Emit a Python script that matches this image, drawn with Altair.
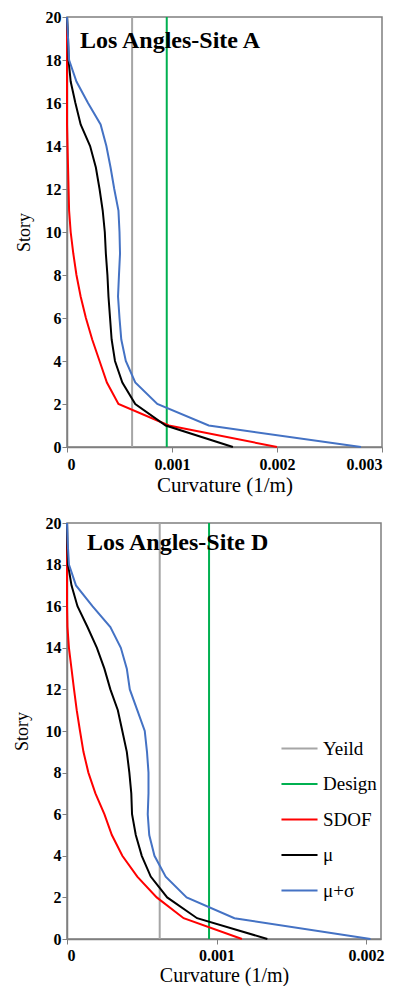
import altair as alt
import pandas as pd

stories = list(range(0, 21))

series_names = ["Yeild", "Design", "SDOF", "\u00a0\u00a0μ", "\u00a0\u00a0μ+σ"]
series_colors = ["#A6A6A6", "#00B050", "#FF0000", "#000000", "#4472C4"]

yield_val = 0.00062
design_val = 0.00095

# Site A
A_sdof = [0.002, 0.00097, 0.00049, 0.00038, 0.00031, 0.00024, 0.00018, 0.00013, 0.00009, 0.00006,
          0.000035, 0.00002, 0.000015, 0.00001, 0.000005, 0.0, 0.0, 0.0, 0.0, 0.0, 0.0]
A_mu = [0.00158, 0.00094, 0.00065, 0.000527, 0.000457, 0.000425, 0.00041, 0.000395, 0.000385, 0.00037,
        0.00036, 0.00034, 0.00031, 0.000275, 0.00022, 0.00013, 0.00008, 0.000035, 0.000015, 0.00001, 0.0]
A_sig = [0.0028, 0.00135, 0.00086, 0.00065, 0.00056, 0.000517, 0.0005, 0.000486, 0.000495, 0.000505,
         0.0005, 0.00049, 0.00045, 0.000415, 0.000375, 0.00032, 0.0002, 0.00009, 0.00002, 0.00001, 0.0]

# Site D
D_sdof = [0.00117, 0.00078, 0.0006, 0.00047, 0.00037, 0.0003, 0.00025, 0.00019, 0.000143, 0.00011,
          0.000087, 0.000065, 0.000047, 0.00003, 0.000013, 0.000003, 0.0, 0.0, 0.0, 0.0, 0.0]
D_mu = [0.00134, 0.00087, 0.00067, 0.00056, 0.0005, 0.00046, 0.000435, 0.00043, 0.000417, 0.0004,
        0.00037, 0.00034, 0.00029, 0.00025, 0.0002, 0.000137, 0.00007, 0.00003, 0.000007, 0.000002, 0.0]
D_sig = [0.00203, 0.00112, 0.0008, 0.00066, 0.000585, 0.00055, 0.00054, 0.000545, 0.000545, 0.000535,
         0.00052, 0.00047, 0.00042, 0.0004, 0.00036, 0.00029, 0.00017, 0.00006, 0.000013, 0.000005, 0.0]

A_xticks = [0, 0.001, 0.002, 0.003]
D_xticks = [0, 0.001, 0.002]
y_ticks = list(range(0, 21, 2))

SERIF = "Liberation Serif"


def panel(title, sdof, mu, sig, xmax, xticks, w, h, legend, ytitle_pad, x_lab_pad, x_title_pad,
          x_title_size, title_dx, title_y):
    rows = []
    for name, vals in [(series_names[2], sdof), (series_names[3], mu), (series_names[4], sig)]:
        for s, v in zip(stories, vals):
            rows.append({"series": name, "story": s, "value": v})
    ldf = pd.DataFrame(rows)
    rdf = pd.DataFrame({"series": series_names[:2], "value": [yield_val, design_val]})
    tdf = pd.DataFrame({"label": [title]})

    xscale = alt.Scale(domain=[0, xmax], nice=False, zero=True)
    xaxis = alt.Axis(values=xticks, format=".3~f", title="Curvature (1/m)",
                     labelFont=SERIF, labelFontSize=16, labelFontWeight="bold",
                     titleFont=SERIF, titleFontSize=x_title_size, titleFontWeight="normal",
                     titlePadding=x_title_pad, labelPadding=x_lab_pad)
    color = alt.Color("series:N", scale=alt.Scale(domain=series_names, range=series_colors),
                      legend=legend)

    rules = alt.Chart(rdf).mark_rule(strokeWidth=2).encode(
        x=alt.X("value:Q", scale=xscale, axis=xaxis),
        color=color,
    )
    lines = alt.Chart(ldf).mark_line(strokeWidth=2).encode(
        x=alt.X("value:Q", scale=xscale, axis=xaxis),
        y=alt.Y("story:Q", scale=alt.Scale(domain=[0, 20], nice=False),
                axis=alt.Axis(values=y_ticks, title="Story", titleFont=SERIF,
                              titleFontSize=18, titleFontWeight="normal", titlePadding=ytitle_pad,
                              labelFont=SERIF, labelFontSize=16, labelFontWeight="bold",
                              labelPadding=1)),
        order="story:Q",
        color=color,
    )
    label = alt.Chart(tdf).mark_text(
        align="left", baseline="alphabetic", font=SERIF, fontSize=24, fontWeight="bold", color="black"
    ).encode(text="label:N", x=alt.value(title_dx), y=alt.value(title_y))
    return alt.layer(rules, lines, label).properties(width=w, height=h)


legend = alt.Legend(
    title=None, orient="none", legendX=213, legendY=206,
    symbolType="stroke", symbolSize=1300, symbolStrokeWidth=2,
    labelFont=SERIF, labelFontSize=19, labelColor="black", labelOffset=4,
    rowPadding=5.5,
)

top = panel("Los Angles-Site A", A_sdof, A_mu, A_sig, 0.003, A_xticks, 315, 430, None,
            12, 4, 2, 21, 13, 31)
bottom = panel("Los Angles-Site D", D_sdof, D_mu, D_sig, 0.0021, D_xticks, 314, 416, legend,
               14, 3, 2, 20, 20, 27)

chart = alt.concat(top, bottom, columns=1, spacing=18).resolve_scale(
    color="independent"
).configure_view(
    stroke="#7F7F7F", strokeWidth=1.5
).configure_axis(
    domainColor="#7F7F7F", domainWidth=1.5, tickColor="#7F7F7F", tickSize=5, grid=False,
    labelColor="black", titleColor="black",
).properties(
    padding={"left": 12, "top": 8, "right": 5, "bottom": 0},
    background="white",
)

chart.save("out.html", embed_options={"renderer": "svg", "actions": False})
